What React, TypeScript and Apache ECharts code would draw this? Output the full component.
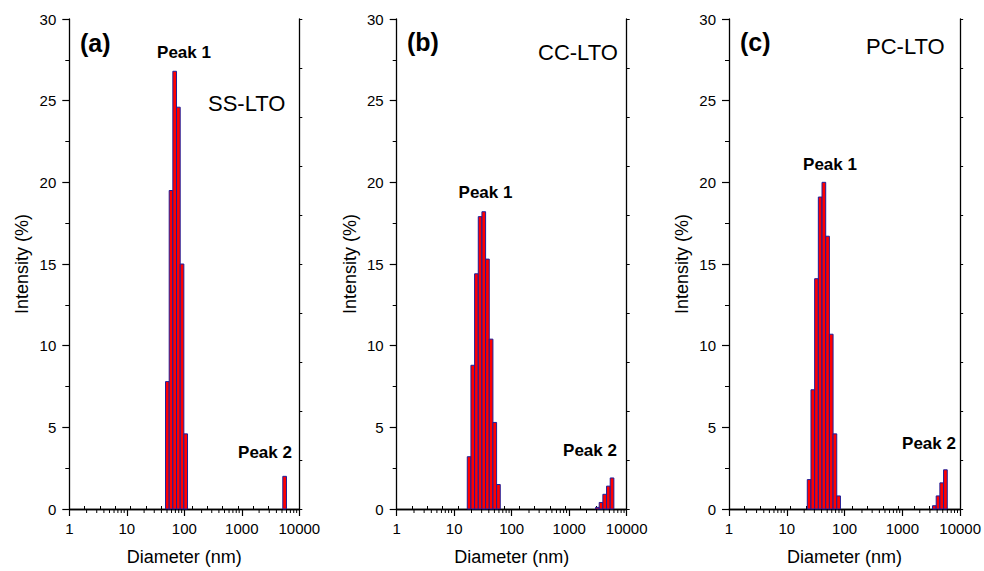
import React, { useEffect, useRef } from "react";
import * as echarts from "echarts";

// Bin centres (nm) and intensities (%)
const sizesA = [50.75, 58.77, 68.06, 78.82, 91.28, 105.7, 5560];
const valuesA = [7.8, 19.5, 26.8, 24.6, 15.0, 4.6, 2.0];

const sizesB = [18.17, 21.04, 24.36, 28.21, 32.67, 37.84, 43.82, 50.75, 58.77, 3091, 3580, 4145, 4801, 5560];
const valuesB = [3.2, 8.8, 14.4, 17.9, 18.2, 15.3, 10.4, 5.3, 1.5, 0.1, 0.4, 0.9, 1.4, 1.9];

const sizesC = [24.36, 28.21, 32.67, 37.84, 43.82, 50.75, 58.77, 68.06, 78.82, 3580, 4145, 4801, 5560];
const valuesC = [1.8, 7.3, 14.1, 19.1, 20.0, 16.7, 10.7, 4.6, 0.8, 0.2, 0.8, 1.6, 2.4];

const xTickLabels = ["1", "10", "100", "1000", "10000"];
const minorTickValues = [2, 3, 4, 5, 6, 7, 8, 9, 20, 30, 40, 50, 60, 70, 80, 90, 200, 300, 400, 500, 600, 700, 800, 900, 2000, 3000, 4000, 5000, 6000, 7000, 8000, 9000];

const panelLetters = ["(a)", "(b)", "(c)"];
const sampleNames = ["SS-LTO", "CC-LTO", "PC-LTO"];

const FONT = "'Liberation Sans', Arial, Helvetica, sans-serif";
const HALF = Math.pow(10, Math.log10(25000) / 69 / 2);

const grids = [
  { left: 69.3, top: 19, width: 230, height: 494 },
  { left: 396.7, top: 19, width: 230, height: 494 },
  { left: 729, top: 19, width: 235, height: 494 },
];

export default function App() {
  const ref = useRef<HTMLDivElement>(null);
  useEffect(() => {
    if (!ref.current) return;
    const chart = echarts.init(ref.current, undefined, { renderer: "svg" });
    const data = [
      sizesA.map((s, i) => [s, valuesA[i]]),
      sizesB.map((s, i) => [s, valuesB[i]]),
      sizesC.map((s, i) => [s, valuesC[i]]),
    ];
    const axisLine = { show: true, lineStyle: { color: "#000", width: 1.3 } };
    const xAxis: any[] = [];
    const yAxis: any[] = [];
    const series: any[] = [];
    grids.forEach((g, k) => {
      xAxis.push({
        type: "log",
        logBase: 10,
        min: 1,
        max: 10000,
        gridIndex: k,
        position: "bottom",
        name: "Diameter (nm)",
        nameLocation: "middle",
        nameGap: 39,
        nameTextStyle: { fontSize: 18, fontFamily: FONT, color: "#000" },
        axisLine,
        axisTick: { show: true, inside: false, length: 7, lineStyle: { color: "#000", width: 1.2 } },
        axisLabel: {
          fontSize: 15,
          fontFamily: FONT,
          color: "#000",
          margin: 12,
          formatter: (v: number) => {
            const e = Math.round(Math.log10(v));
            return xTickLabels[e] ?? String(v);
          },
        },
        splitLine: { show: false },
      });
      xAxis.push({
        type: "value",
        min: 0,
        max: 15,
        interval: 1,
        gridIndex: k,
        position: "top",
        axisLine,
        axisTick: { show: true, inside: false, length: 3, lineStyle: { color: "#000", width: 1 } },
        axisLabel: { show: false },
        splitLine: { show: false },
      });
      yAxis.push({
        type: "value",
        min: 0,
        max: 30,
        interval: 5,
        gridIndex: k,
        position: "left",
        name: "Intensity (%)",
        nameLocation: "middle",
        nameGap: 38,
        nameTextStyle: { fontSize: 18, fontFamily: FONT, color: "#000" },
        axisLine,
        axisTick: { show: true, inside: false, length: 7, lineStyle: { color: "#000", width: 1.2 } },
        minorTick: { show: true, splitNumber: 2, length: 4, lineStyle: { color: "#000", width: 1 } },
        axisLabel: { fontSize: 15, fontFamily: FONT, color: "#000", margin: 13 },
        splitLine: { show: false },
        minorSplitLine: { show: false },
      });
      yAxis.push({
        type: "value",
        min: 0,
        max: 10,
        interval: 1,
        gridIndex: k,
        position: "right",
        axisLine,
        axisTick: { show: true, inside: false, length: 3, lineStyle: { color: "#000", width: 1 } },
        axisLabel: { show: false },
        splitLine: { show: false },
      });
      series.push({
        type: "custom",
        xAxisIndex: 2 * k,
        yAxisIndex: 2 * k,
        data: data[k],
        encode: { x: 0, y: 1 },
        clip: false,
        renderItem: (params: any, api: any) => {
          const d = api.value(0);
          const v = api.value(1);
          const p1 = api.coord([d / HALF, v]);
          const p2 = api.coord([d * HALF, 0]);
          return {
            type: "rect",
            shape: { x: p1[0], y: p1[1], width: p2[0] - p1[0], height: p2[1] - p1[1] },
            style: { fill: "#ff0000", stroke: "#1e1e9a", lineWidth: 1 },
          };
        },
      });
      series.push({
        type: "custom",
        xAxisIndex: 2 * k,
        yAxisIndex: 2 * k,
        data: minorTickValues.map((m) => [m, 0]),
        encode: { x: 0, y: 1 },
        clip: false,
        silent: true,
        renderItem: (params: any, api: any) => {
          const p = api.coord([api.value(0), 0]);
          return {
            type: "line",
            shape: { x1: p[0], y1: p[1], x2: p[0], y2: p[1] + 4 },
            style: { stroke: "#000", lineWidth: 1 },
          };
        },
      });
    });

    const txt = (text: string, x: number, y: number, size: number, bold: boolean, align: string) => ({
      type: "text",
      x,
      y,
      style: {
        text,
        x: 0,
        y: 0,
        fontSize: size,
        fontWeight: bold ? "bold" : "normal",
        fontFamily: FONT,
        fill: "#000",
        align,
        verticalAlign: "middle",
        textAlign: align,
        textVerticalAlign: "middle",
      },
    });

    const graphic = [
      txt(panelLetters[0], 80, 43, 25, true, "left"),
      txt("Peak 1", 184, 52, 17, true, "center"),
      txt(sampleNames[0], 208, 103, 22, false, "left"),
      txt("Peak 2", 265, 452, 17, true, "center"),
      txt(panelLetters[1], 407, 42, 25, true, "left"),
      txt(sampleNames[1], 538, 52, 22, false, "left"),
      txt("Peak 1", 485.5, 192, 17, true, "center"),
      txt("Peak 2", 590, 450, 17, true, "center"),
      txt(panelLetters[2], 740, 42, 25, true, "left"),
      txt(sampleNames[2], 866, 46, 22, false, "left"),
      txt("Peak 1", 830, 164, 17, true, "center"),
      txt("Peak 2", 929, 443, 17, true, "center"),
    ];

    chart.setOption({
      animation: false,
      backgroundColor: "#fff",
      grid: grids,
      xAxis,
      yAxis,
      series,
      graphic,
    });
    return () => chart.dispose();
  }, []);
  return (
    <div
      ref={ref}
      style={{ position: "fixed", left: 0, top: 0, width: 984, height: 571, background: "#fff" }}
    />
  );
}
